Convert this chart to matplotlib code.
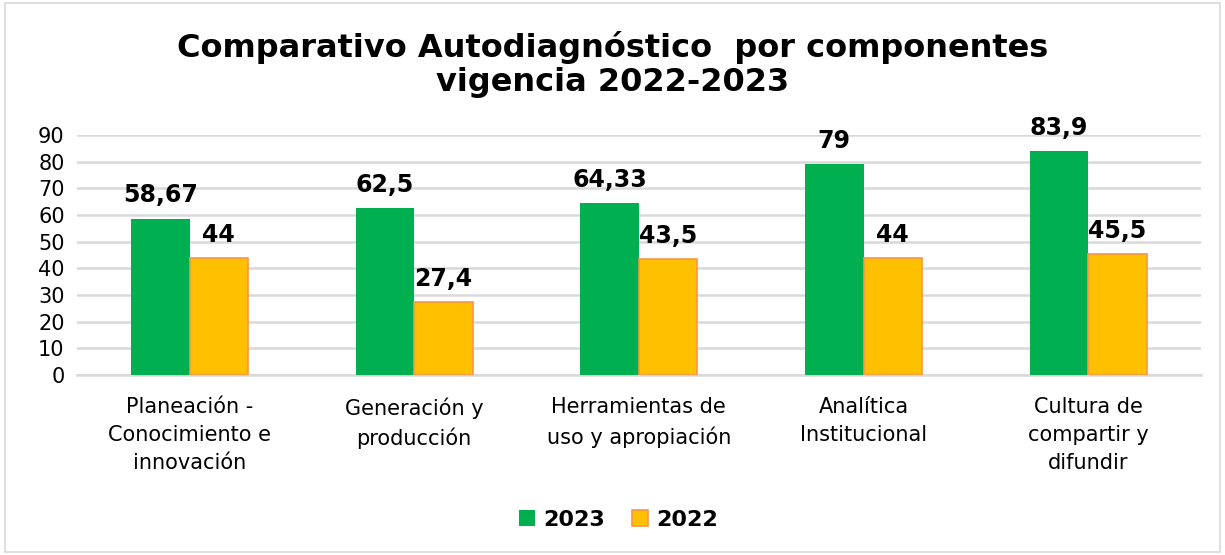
import numpy as np
import matplotlib.pyplot as plt
from matplotlib.patches import Rectangle

categories = ['Planeación -\nConocimiento e\ninnovación', 'Generación y\nproducción',
              'Herramientas de\nuso y apropiación', 'Analítica\nInstitucional',
              'Cultura de\ncompartir y\ndifundir']
values_2023 = [58.67, 62.5, 64.33, 79, 83.9]
values_2022 = [44, 27.4, 43.5, 44, 45.5]
labels_2023 = ['58,67', '62,5', '64,33', '79', '83,9']
labels_2022 = ['44', '27,4', '43,5', '44', '45,5']

plt.rcParams['font.family'] = ['DejaVu Sans']

fig = plt.figure(figsize=(12.25, 5.55), dpi=100)
ax = fig.add_axes([0.063, 0.324, 0.917, 0.433])

x = np.arange(len(categories))
w = 0.26
b1 = ax.bar(x - w / 2, values_2023, w, color='#00B050', label='2023', zorder=3)
b2 = ax.bar(x + w / 2, values_2022, w, color='#FFC000', edgecolor='#F79646',
            linewidth=1.2, label='2022', zorder=3)

for rect, lab in zip(b1, labels_2023):
    ax.annotate(lab, (rect.get_x() + rect.get_width() / 2, rect.get_height()),
                xytext=(0, 8), textcoords='offset points', ha='center', va='bottom',
                fontsize=17, fontweight='bold')
for rect, lab in zip(b2, labels_2022):
    ax.annotate(lab, (rect.get_x() + rect.get_width() / 2, rect.get_height()),
                xytext=(0, 8), textcoords='offset points', ha='center', va='bottom',
                fontsize=17, fontweight='bold')

ax.set_xlim(-0.5, len(categories) - 0.5)
ax.set_ylim(0, 90)
ax.set_yticks(range(0, 91, 10))
ax.yaxis.grid(True, color='#D9D9D9', linewidth=1.8, zorder=0)
ax.set_axisbelow(True)
for s in ['top', 'right', 'left']:
    ax.spines[s].set_visible(False)
ax.spines['bottom'].set_color('#D9D9D9')
ax.spines['bottom'].set_linewidth(1.8)
ax.tick_params(axis='both', length=0, labelsize=15)
ax.tick_params(axis='y', pad=9)
ax.tick_params(axis='x', pad=16)
ax.set_xticks(x)
ax.set_xticklabels(categories, linespacing=1.5)

fig.text(0.5, 0.884, 'Comparativo Autodiagnóstico  por componentes\nvigencia 2022-2023',
         ha='center', va='center', fontsize=23, fontweight='bold', linespacing=1.15)

fig.legend(handles=[b1, b2], loc='center', bbox_to_anchor=(0.505, 0.063), ncol=2,
           frameon=False, prop={'size': 16, 'weight': 'bold'}, handlelength=0.7,
           handleheight=0.7, handletextpad=0.4, columnspacing=1.2)

fig.patches.append(Rectangle((0.004, 0.005), 0.992, 0.99, transform=fig.transFigure,
                             fill=False, edgecolor='#D9D9D9', linewidth=1.2))

fig.savefig('out.png', dpi=100)
